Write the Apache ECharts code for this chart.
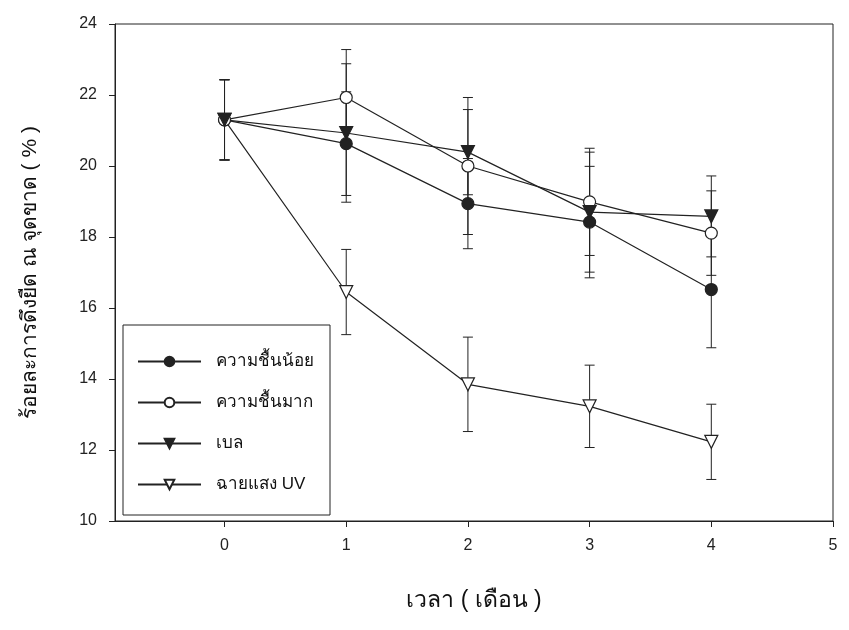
<!DOCTYPE html>
<html>
<head>
<meta charset="utf-8">
<script src="https://cdn.jsdelivr.net/npm/echarts@6/dist/echarts.min.js"></script>
<style>
  html, body { margin: 0; padding: 0; background: #fff; }
  #chart { width: 849px; height: 630px; }
</style>
</head>
<body>
<div id="chart"></div>
<script>
// months after start
const months = [0, 1, 2, 3, 4]
const xTicks = [0, 1, 2, 3, 4, 5]

// elongation at break (%) and error bar half-lengths
const lowHumidity = [21.3, 20.63, 18.94, 18.42, 16.52]
const lowHumidityErr = [1.13, 1.46, 1.27, 1.57, 1.64]
const highHumidity = [21.3, 21.93, 20.0, 18.99, 18.11]
const highHumidityErr = [1.13, 1.35, 1.93, 1.51, 1.19]
const bale = [21.3, 20.93, 20.39, 18.70, 18.58]
const baleErr = [1.13, 1.95, 1.2, 1.69, 1.14]
const uv = [21.3, 16.45, 13.85, 13.23, 12.23]
const uvErr = [1.13, 1.2, 1.33, 1.16, 1.06]

const names = ['ความชื้นน้อย', 'ความชื้นมาก', 'เบล', 'ฉายแสง UV']

const ink = '#222'
const font = "'Liberation Sans', Arial, 'Noto Sans', sans-serif"

function pairs(values) {
  return months.map((m, i) => [m, values[i]])
}

function errorSeries(name, values, errs) {
  return {
    name: name + '-err',
    type: 'custom',
    silent: true,
    z: 1,
    data: months.map((m, i) => [m, values[i], errs[i]]),
    renderItem(params, api) {
      const x = api.value(0)
      const y = api.value(1)
      const e = api.value(2)
      const top = api.coord([x, y + e])
      const bot = api.coord([x, y - e])
      const cap = 5
      const style = { stroke: ink, lineWidth: 1 }
      return {
        type: 'group',
        children: [
          { type: 'line', shape: { x1: top[0], y1: top[1], x2: bot[0], y2: bot[1] }, style },
          { type: 'line', shape: { x1: top[0] - cap, y1: top[1], x2: top[0] + cap, y2: top[1] }, style },
          { type: 'line', shape: { x1: bot[0] - cap, y1: bot[1], x2: bot[0] + cap, y2: bot[1] }, style }
        ]
      }
    }
  }
}

function lineSeries(name, values, symbol, fill, rotate) {
  return {
    name,
    type: 'line',
    z: 3,
    data: pairs(values),
    symbol,
    symbolSize: symbol === 'circle' ? 12 : 13,
    symbolRotate: rotate || 0,
    showAllSymbol: true,
    lineStyle: { color: ink, width: 1.2 },
    itemStyle: { color: fill, borderColor: ink, borderWidth: 1.2 },
    emphasis: { disabled: true },
    animation: false
  }
}

const chart = echarts.init(document.getElementById('chart'))

chart.setOption({
  animation: false,
  grid: {
    left: 115,
    right: 16,
    top: 24,
    bottom: 109,
    show: true,
    borderColor: ink,
    borderWidth: 1
  },
  legend: {
    data: names,
    orient: 'vertical',
    left: 123,
    top: 325,
    padding: [28, 16, 22, 14],
    itemWidth: 63,
    itemHeight: 12,
    itemGap: 24,
    borderColor: ink,
    borderWidth: 1,
    textStyle: { fontFamily: font, fontSize: 17, color: '#111', padding: [0, 0, 0, 10] }
  },
  xAxis: {
    type: 'value',
    min: -0.9,
    max: 5,
    name: 'เวลา ( เดือน )',
    nameLocation: 'middle',
    nameGap: 68,
    nameTextStyle: { fontFamily: font, fontSize: 23, color: '#111' },
    axisLine: { onZero: false, lineStyle: { color: ink } },
    axisTick: { customValues: xTicks, length: 6, lineStyle: { color: ink } },
    axisLabel: { customValues: xTicks, fontFamily: font, fontSize: 16, color: ink, margin: 17 },
    splitLine: { show: false }
  },
  yAxis: {
    type: 'value',
    min: 10,
    max: 24,
    interval: 2,
    name: 'ร้อยละการดึงยืด ณ จุดขาด ( % )',
    nameLocation: 'middle',
    nameGap: 74,
    nameTextStyle: { fontFamily: font, fontSize: 21, color: '#111' },
    axisLine: { show: true, onZero: false, lineStyle: { color: ink } },
    axisTick: { show: true, length: 6, lineStyle: { color: ink } },
    axisLabel: { fontFamily: font, fontSize: 16, color: ink, margin: 18 },
    splitLine: { show: false }
  },
  series: [
    errorSeries(names[0], lowHumidity, lowHumidityErr),
    errorSeries(names[1], highHumidity, highHumidityErr),
    errorSeries(names[2], bale, baleErr),
    errorSeries(names[3], uv, uvErr),
    lineSeries(names[3], uv, 'triangle', '#fff', 180),
    lineSeries(names[0], lowHumidity, 'circle', ink),
    lineSeries(names[1], highHumidity, 'circle', '#fff'),
    lineSeries(names[2], bale, 'triangle', ink, 180)
  ]
})
</script>
</body>
</html>
